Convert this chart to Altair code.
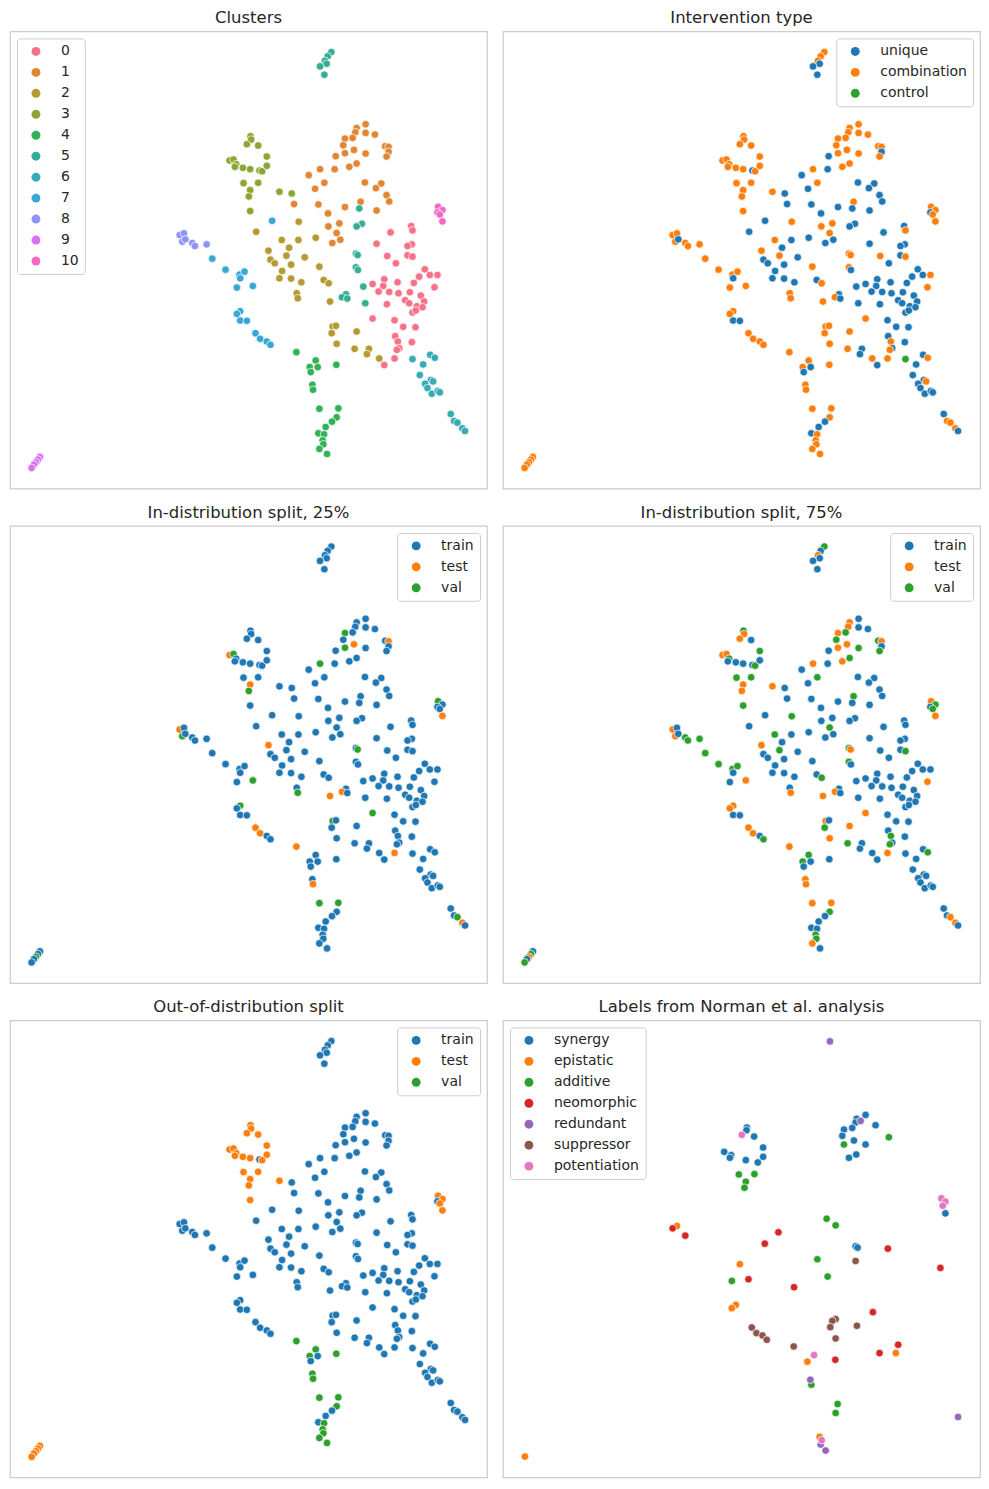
import math
import altair as alt
import pandas as pd

# ---------------- data (embedding coordinates, arbitrary units; y grows downward) -------------
# each row: (x, y, intervention type, split 25%, split 75%, OOD split)
# type: u=unique, c=combination, k=control ; split: tr=train, te=test, va=val
CL0 = [(1144,604,'u','tr','tr','tr'),(1102,638,'u','tr','tr','tr'),(1206,585,'u','tr','tr','tr'),
       (1210,598,'c','tr','tr','tr'),(1208,640,'u','tr','tr','tr'),(1195,645,'u','tr','tr','tr'),
       (1134,675,'c','tr','tr','tr'),(1195,673,'u','tr','tr','tr'),(1210,677,'c','tr','va','tr'),
       (1160,697,'u','tr','tr','tr'),(1247,715,'u','tr','tr','tr'),(1262,732,'u','tr','tr','tr'),
       (1285,732,'c','tr','tr','tr'),(1230,737,'u','tr','tr','tr'),(1276,769,'c','tr','te','tr'),
       (1214,756,'u','tr','tr','tr'),(1165,754,'u','tr','tr','tr'),(1125,745,'u','tr','tr','tr'),
       (1122,765,'u','tr','tr','tr'),(1090,759,'u','tr','tr','tr'),(1108,782,'u','tr','tr','tr'),
       (1140,783,'u','tr','tr','tr'),(1168,787,'u','tr','tr','tr'),(1202,784,'u','tr','tr','tr'),
       (1235,794,'u','tr','tr','tr'),(1188,808,'u','tr','tr','tr'),(1200,817,'u','tr','tr','tr'),
       (1223,826,'u','tr','tr','tr'),(1245,812,'u','tr','tr','tr'),(1240,829,'u','tr','tr','tr'),
       (1210,845,'u','tr','tr','tr'),(1220,839,'u','tr','tr','tr'),(1133,820,'u','tr','tr','tr'),
       (1090,863,'c','va','te','tr'),(1156,868,'u','tr','tr','tr'),(1182,888,'u','tr','tr','tr'),
       (1219,889,'u','tr','tr','tr'),(1158,916,'u','tr','tr','tr'),(1166,932,'c','tr','va','tr'),
       (1208,934,'u','tr','tr','tr'),(1170,952,'u','tr','tr','tr'),(1163,957,'c','tr','va','tr'),
       (1156,983,'c','te','te','tr'),(1125,1003,'u','tr','tr','tr')]
CL1 = [(1069,279,'c','tr','tr','tr'),(1042,290,'c','tr','te','tr'),(1038,303,'c','tr','te','tr'),
       (1069,305,'c','tr','tr','tr'),(1097,310,'c','tr','tr','tr'),(1030,320,'c','tr','va','tr'),
       (1007,322,'c','va','te','tr'),(1002,342,'c','tr','va','tr'),(1128,345,'c','tr','va','tr'),
       (1138,347,'c','te','te','tr'),(1138,362,'u','tr','tr','tr'),(1132,376,'c','tr','va','tr'),
       (1034,356,'c','te','te','tr'),(1007,366,'c','va','te','tr'),(1069,367,'c','tr','va','tr'),
       (979,375,'u','tr','tr','tr'),(976,414,'u','tr','tr','tr'),(932,414,'c','va','te','tr'),
       (1020,407,'c','tr','te','tr'),(1042,397,'c','tr','va','tr'),(898,432,'u','tr','tr','tr'),
       (1067,454,'u','tr','tr','tr'),(1116,457,'u','tr','tr','tr'),(1100,471,'u','tr','tr','tr'),
       (945,455,'c','tr','va','tr'),(917,473,'u','tr','tr','tr'),(1132,492,'u','tr','tr','tr'),
       (1140,511,'u','tr','tr','tr'),(1054,512,'c','tr','va','tr'),(854,519,'u','tr','tr','tr'),
       (927,520,'u','tr','tr','tr'),(1007,528,'u','tr','tr','tr'),(1102,538,'u','tr','tr','tr'),
       (956,547,'u','tr','tr','tr'),(990,577,'c','tr','tr','tr'),(957,586,'c','tr','tr','tr'),
       (982,606,'c','tr','va','tr'),(993,626,'u','tr','tr','tr'),(969,636,'u','tr','tr','tr')]
CL2 = [(740,602,'u','tr','tr','tr'),(868,572,'c','tr','va','tr'),(817,627,'c','tr','va','tr'),
       (867,627,'u','tr','tr','tr'),(919,620,'u','tr','tr','tr'),(777,659,'c','te','te','tr'),
       (839,650,'u','tr','tr','tr'),(831,674,'c','tr','va','tr'),(886,679,'u','tr','tr','tr'),
       (783,686,'u','tr','tr','tr'),(796,697,'u','tr','tr','tr'),(845,701,'u','tr','tr','tr'),
       (818,720,'u','tr','tr','tr'),(810,742,'u','tr','tr','tr'),(845,743,'u','tr','tr','tr'),
       (876,754,'u','tr','tr','tr'),(930,707,'c','tr','tr','tr'),(943,747,'u','tr','tr','tr'),
       (958,757,'c','tr','va','tr'),(862,787,'c','tr','tr','tr'),(865,802,'c','va','te','tr'),
       (962,812,'c','te','te','tr'),(970,887,'c','va','te','tr'),(967,907,'c','tr','va','tr'),
       (980,885,'c','tr','tr','tr'),(982,939,'c','tr','te','tr'),(1042,902,'c','tr','te','tr'),
       (1036,954,'c','tr','va','tr'),(1079,954,'u','tr','tr','tr'),(1073,970,'u','tr','tr','tr'),
       (1110,983,'c','tr','tr','tr')]
CL3 = [(723,315,'c','tr','va','te'),(725,325,'c','tr','te','te'),(712,339,'c','tr','te','te'),
       (746,343,'c','tr','tr','te'),(772,376,'c','tr','va','te'),(660,388,'c','te','te','te'),
       (672,385,'c','va','te','te'),(680,399,'c','tr','va','te'),(676,407,'c','tr','tr','te'),
       (700,410,'c','tr','tr','te'),(722,414,'c','tr','tr','te'),(750,418,'u','tr','tr','tr'),
       (758,420,'c','tr','va','te'),(772,404,'c','tr','tr','te'),(702,456,'c','tr','va','te'),
       (746,455,'c','tr','va','te'),(722,477,'c','te','te','te'),(718,496,'c','va','te','te'),
       (722,540,'c','tr','va','te'),(810,482,'c','tr','te','te'),(847,487,'u','tr','tr','tr')]
CL4 = [(861,964,'c','te','te','va'),(919,989,'c','tr','va','va'),(901,1009,'c','tr','va','va'),
       (925,1009,'u','tr','tr','tr'),(904,1024,'u','tr','tr','tr'),(981,1002,'c','tr','tr','va'),
       (909,1062,'c','tr','te','va'),(911,1077,'c','te','te','va'),(930,1134,'c','va','te','va'),
       (987,1133,'c','va','te','va'),(982,1160,'c','tr','va','va'),(968,1173,'u','tr','tr','tr'),
       (949,1189,'u','tr','tr','tr'),(927,1208,'u','tr','tr','tr'),(944,1211,'c','tr','tr','va'),
       (940,1229,'c','tr','va','va'),(942,1241,'c','tr','va','va'),(930,1255,'c','tr','te','va'),
       (953,1270,'c','tr','tr','va')]
CL5 = [(966,62,'c','tr','va','tr'),(955,75,'c','tr','tr','tr'),(947,88,'c','tr','te','tr'),
       (952,97,'u','tr','tr','tr'),(932,105,'u','tr','tr','tr'),(945,130,'u','tr','tr','tr'),
       (1050,532,'u','tr','tr','tr'),(1058,578,'u','tr','tr','tr'),(1042,586,'u','tr','tr','tr'),
       (1040,668,'c','tr','va','tr'),(1045,672,'c','va','te','tr'),(1040,709,'c','tr','va','tr'),
       (1046,717,'u','tr','tr','tr'),(1062,767,'u','tr','tr','tr'),(1010,790,'u','tr','tr','tr'),
       (998,799,'c','te','te','tr'),(1014,803,'u','tr','tr','tr'),(1068,817,'u','tr','tr','tr')]
CL6 = [(1263,972,'u','tr','tr','tr'),(1277,981,'c','tr','va','tr'),(1210,985,'k','tr','tr','tr'),
       (1242,1001,'u','tr','tr','tr'),(1232,1033,'u','tr','tr','tr'),(1265,1048,'u','tr','tr','tr'),
       (1272,1052,'c','tr','tr','tr'),(1248,1059,'u','tr','tr','tr'),(1255,1072,'u','tr','tr','tr'),
       (1268,1089,'u','tr','tr','tr'),(1286,1081,'u','tr','tr','tr'),(1292,1085,'u','tr','tr','tr'),
       (1325,1150,'u','tr','tr','tr'),(1335,1171,'c','tr','tr','tr'),(1345,1176,'c','va','te','tr'),
       (1360,1193,'c','te','te','tr'),(1368,1201,'u','tr','tr','tr')]
CL7 = [(608,683,'c','tr','va','tr'),(648,716,'c','tr','va','tr'),(690,731,'c','tr','va','tr'),
       (705,722,'c','tr','va','tr'),(692,742,'u','tr','tr','tr'),(682,770,'c','tr','tr','tr'),
       (730,765,'c','va','te','tr'),(788,569,'u','tr','tr','tr'),(692,841,'c','va','te','tr'),
       (682,849,'c','tr','te','tr'),(692,869,'u','tr','tr','tr'),(712,870,'u','tr','tr','tr'),
       (738,907,'c','te','te','tr'),(752,924,'c','te','te','tr'),(772,932,'c','tr','tr','tr'),
       (783,942,'c','tr','va','tr')]
CL8 = [(510,612,'c','te','te','tr'),(523,607,'c','tr','tr','tr'),(518,632,'c','va','te','tr'),
       (527,625,'u','tr','tr','tr'),(548,636,'c','tr','va','tr'),(556,645,'c','tr','va','tr'),
       (591,640,'c','tr','va','tr')]
CL9 = [(90,1279,'c','tr','tr','te'),(84,1287,'c','tr','va','te'),(78,1295,'c','va','te','te'),
       (72,1302,'c','tr','tr','te'),(65,1312,'c','tr','va','te')]
CL10 = [(1287,527,'c','va','te','te'),(1300,537,'c','tr','va','te'),(1285,544,'u','tr','tr','tr'),
        (1292,550,'c','tr','va','te'),(1300,571,'c','te','te','te')]
CLUSTERS = [CL0, CL1, CL2, CL3, CL4, CL5, CL6, CL7, CL8, CL9, CL10]

# Labels from Norman et al. analysis (subset of perturbations)
SYNERGY = [(733,322),(732,330),(755,349),(782,382),(665,395),(686,405),(682,413),(782,410),(730,420),
           (766,427),(1090,284),(1063,296),(1060,307),(1025,328),(1050,323),(1020,347),(1055,361),
           (1090,373),(1040,413),(1062,403),(1120,315),(1330,580),(1060,679),(1066,683)]
EPISTATIC = [(523,618),(712,733),(700,855),(688,865),(915,1026),(1181,1000),(952,1252),(66,1311)]
ADDITIVE = [(709,463),(756,462),(730,485),(726,503),(1160,351),(1025,373),(973,596),(1000,616),
            (945,718),(976,770),(688,783),(927,1095),(1006,1153),(1000,1180)]
NEOMORPHIC = [(510,625),(548,647),(828,637),(787,671),(1157,686),(1315,744),(738,778),(875,802),
              (1112,877),(1188,975),(1132,1000),(999,1020)]
REDUNDANT = [(983,63),(1075,302),(924,1080),(955,1275),(970,1293),(1368,1192)]
SUPPRESSOR = [(1060,723),(748,923),(762,940),(780,947),(793,960),(1000,898),(990,903),(984,922),
              (1064,918),(1000,956),(874,980)]
POTENTIATION = [(718,344),(1318,535),(1330,545),(1322,557),(935,1006),(958,1262)]

CLUSTER_NAMES = [str(i) for i in range(11)]
TYPE_NAMES = {'u': 'unique', 'c': 'combination', 'k': 'control'}
SPLIT_NAMES = {'tr': 'train', 'te': 'test', 'va': 'val'}
NORMAN_NAMES = ['synergy', 'epistatic', 'additive', 'neomorphic', 'redundant', 'suppressor', 'potentiation']
NORMAN_SETS = [SYNERGY, EPISTATIC, ADDITIVE, NEOMORPHIC, REDUNDANT, SUPPRESSOR, POTENTIATION]

TAB10 = ['#1f77b4', '#ff7f0e', '#2ca02c', '#d62728', '#9467bd', '#8c564b', '#e377c2']

# ---------------- seaborn "husl" palette (11 colours) ----------------
_M = [[3.2406, -1.5372, -0.4986], [-0.9689, 1.8758, 0.0415], [0.0557, -0.2040, 1.0570]]
_REF_U, _REF_V, _KAPPA, _EPS = 0.19784, 0.46834, 903.3, 0.008856


def _max_chroma(L, H):
    hrad = math.radians(H)
    sinH, cosH = math.sin(hrad), math.cos(hrad)
    sub1 = (L + 16) ** 3 / 1560896.0
    sub2 = sub1 if sub1 > _EPS else L / _KAPPA
    result = float('inf')
    for m1, m2, m3 in _M:
        top = (0.99915 * m1 + 1.05122 * m2 + 1.14460 * m3) * sub2
        rbottom = 0.86330 * m3 - 0.17266 * m2
        lbottom = 0.12949 * m3 - 0.38848 * m1
        bottom = (rbottom * sinH + lbottom * cosH) * sub2
        for t in (0.0, 1.0):
            C = L * (top - 1.05122 * t) / (bottom + 0.17266 * sinH * t)
            if 0.0 < C < result:
                result = C
    return result


def _from_linear(c):
    return 12.92 * c if c <= 0.0031308 else 1.055 * c ** (1 / 2.4) - 0.055


def husl_hex(H, S, L):
    C = _max_chroma(L, H) / 100.0 * S
    hr = math.radians(H)
    U, V = math.cos(hr) * C, math.sin(hr) * C
    t = (L + 16) / 116.0
    Y = t ** 3 if t ** 3 > _EPS else (116 * t - 16) / _KAPPA
    vu = U / (13 * L) + _REF_U
    vv = V / (13 * L) + _REF_V
    X = -(9 * Y * vu) / ((vu - 4.0) * vv - vu * vv)
    Z = (9.0 * Y - 15.0 * vv * Y - vv * X) / (3.0 * vv)
    rgb = [min(1.0, max(0.0, _from_linear(r[0] * X + r[1] * Y + r[2] * Z))) for r in _M]
    return '#%02x%02x%02x' % tuple(int(round(v * 255)) for v in rgb)


HUSL11 = [husl_hex(((i / 11.0 + 0.01) % 1) * 359, 0.9 * 99, 0.65 * 99) for i in range(11)]

# ---------------- tables ----------------
rows = []
for ci, pts in enumerate(CLUSTERS):
    for (x, y, t, s25, s75, ood) in pts:
        rows.append({'x': x, 'y': y, 'cluster': str(ci), 'itype': TYPE_NAMES[t],
                     's25': SPLIT_NAMES[s25], 's75': SPLIT_NAMES[s75], 'ood': SPLIT_NAMES[ood]})
df = pd.DataFrame(rows)

nrows = []
for name, pts in zip(NORMAN_NAMES, NORMAN_SETS):
    for (x, y) in pts:
        nrows.append({'x': x, 'y': y, 'label': name})
dfn = pd.DataFrame(nrows)

FONT = 'DejaVu Sans'
TXT = '#262626'
W, H = 478, 458


def panel(data, field, domain, colors, title, orient):
    return alt.Chart(data, title=alt.TitleParams(title)).mark_circle(
        size=58, opacity=1, stroke='white', strokeWidth=0.7
    ).encode(
        x=alt.X('x:Q', scale=alt.Scale(domain=[0, 1434], nice=False, zero=False), axis=None),
        y=alt.Y('y:Q', scale=alt.Scale(domain=[0, 1374], reverse=True, nice=False, zero=False), axis=None),
        color=alt.Color(f'{field}:N', scale=alt.Scale(domain=domain, range=colors),
                        legend=alt.Legend(title=None, orient=orient)),
    ).properties(width=W, height=H)


split_dom = ['train', 'test', 'val']
p1 = panel(df, 'cluster', CLUSTER_NAMES, HUSL11, 'Clusters', 'top-left')
p2 = panel(df, 'itype', ['unique', 'combination', 'control'], TAB10[:3], 'Intervention type', 'top-right')
p3 = panel(df, 's25', split_dom, TAB10[:3], 'In-distribution split, 25%', 'top-right')
p4 = panel(df, 's75', split_dom, TAB10[:3], 'In-distribution split, 75%', 'top-right')
p5 = panel(df, 'ood', split_dom, TAB10[:3], 'Out-of-distribution split', 'top-right')
p6 = panel(dfn, 'label', NORMAN_NAMES, TAB10, 'Labels from Norman et al. analysis', 'top-left')

row1 = alt.hconcat(p1, p2, spacing=14).resolve_scale(color='independent')
row2 = alt.hconcat(p3, p4, spacing=14).resolve_scale(color='independent')
row3 = alt.hconcat(p5, p6, spacing=14).resolve_scale(color='independent')

chart = alt.vconcat(row1, row2, row3, spacing=14.5).resolve_scale(color='independent').properties(
    padding={'left': 1, 'top': 0, 'right': 0, 'bottom': 0}
).configure_view(
    stroke='#cccccc', strokeWidth=1.25
).configure_title(
    font=FONT, fontSize=16.5, fontWeight='normal', color=TXT, anchor='middle',
    baseline='alphabetic', offset=4.5
).configure_legend(
    labelFont=FONT, labelFontSize=14, labelColor=TXT, symbolType='circle', symbolSize=80,
    symbolStrokeWidth=0, padding=6, symbolOffset=6, labelOffset=18, rowPadding=7,
    strokeColor='#cccccc', fillColor='rgba(255,255,255,0.8)', cornerRadius=3, offset=7,
    symbolOpacity=1
)

chart.save('out.html', embed_options={'renderer': 'svg', 'actions': False})
